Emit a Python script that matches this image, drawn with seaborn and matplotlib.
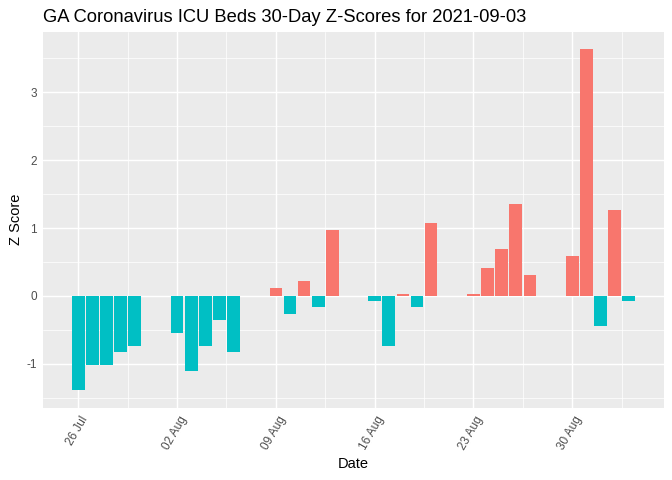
import pandas as pd
import numpy as np
import matplotlib
matplotlib.use("Agg")
import matplotlib.pyplot as plt
import matplotlib.transforms as mtransforms
import seaborn as sns

# weekdays only, 26 Jul - 03 Sep 2021
dates = [
    "2021-07-26", "2021-07-27", "2021-07-28", "2021-07-29", "2021-07-30",
    "2021-08-02", "2021-08-03", "2021-08-04", "2021-08-05", "2021-08-06",
    "2021-08-09", "2021-08-10", "2021-08-11", "2021-08-12", "2021-08-13",
    "2021-08-16", "2021-08-17", "2021-08-18", "2021-08-19", "2021-08-20",
    "2021-08-23", "2021-08-24", "2021-08-25", "2021-08-26", "2021-08-27",
    "2021-08-30", "2021-08-31", "2021-09-01", "2021-09-02", "2021-09-03",
]
z_scores = [
    -1.39, -1.01, -1.01, -0.82, -0.735,
    -0.54, -1.11, -0.735, -0.35, -0.82,
    0.12, -0.26, 0.22, -0.157, 0.97,
    -0.07, -0.74, 0.03, -0.157, 1.07,
    0.03, 0.41, 0.69, 1.35, 0.31,
    0.59, 3.63, -0.44, 1.265, -0.07,
]
tick_dates = ["2021-07-26", "2021-08-02", "2021-08-09", "2021-08-16", "2021-08-23", "2021-08-30"]

df = pd.DataFrame({"date": pd.to_datetime(dates), "z": z_scores})
origin = pd.Timestamp("2021-07-26")
df["day"] = (df["date"] - origin).dt.days.astype(float)
df["sign"] = np.where(df["z"] > 0, "pos", "neg")

sns.set_theme(style="darkgrid")
plt.rcParams["font.family"] = ["Liberation Sans", "DejaVu Sans"]
plt.rcParams["axes.unicode_minus"] = False

fig = plt.figure(figsize=(7, 5), dpi=96)
ax = fig.add_axes([43 / 672, 1 - 407.7 / 480, (664 - 43) / 672, (407.7 - 31.7) / 480])
ax.set_facecolor("#EBEBEB")

sns.barplot(data=df, x="day", y="z", hue="sign", native_scale=True, dodge=False,
            palette={"pos": "#F8766D", "neg": "#00BFC4"}, width=0.9,
            saturation=1, legend=False, ax=ax, linewidth=0)

tick_pos = [(pd.Timestamp(t) - origin).days for t in tick_dates]
ax.set_xticks(tick_pos)
ax.set_xticklabels([pd.Timestamp(t).strftime("%d %b") for t in tick_dates])
ax.set_xticks([p + 3.5 for p in tick_pos], minor=True)
ax.set_yticks([-1, 0, 1, 2, 3])
ax.set_yticklabels(["-1", "0", "1", "2", "3"])
ax.set_yticks([-1.5, -0.5, 0.5, 1.5, 2.5, 3.5], minor=True)

# limits last, set_ticks can widen the view
last = df["day"].max()
ax.set_xlim(-2.5, last + 2.5)
ax.set_ylim(-1.645, 3.89)

ax.grid(which="major", color="white", linewidth=1.1)
ax.grid(which="minor", color="white", linewidth=0.55)
ax.set_axisbelow(True)
for s in ax.spines.values():
    s.set_visible(False)

ax.tick_params(axis="both", which="major", length=2.75, width=0.8, color="#333333",
               labelsize=8.8, labelcolor="#4D4D4D", pad=2)
ax.tick_params(axis="both", which="minor", length=0)
shift = mtransforms.ScaledTranslation(7 / 96, -3 / 96, fig.dpi_scale_trans)
for lab in ax.get_xticklabels():
    lab.set_rotation(60)
    lab.set_ha("right")
    lab.set_va("center")
    lab.set_rotation_mode("anchor")
    lab.set_transform(lab.get_transform() + shift)

ax.set_xlabel("Date", fontsize=11, color="black", labelpad=4)
ax.set_ylabel("Z Score", fontsize=11, color="black", labelpad=2)
ax.set_title("GA Coronavirus ICU Beds 30-Day Z-Scores for 2021-09-03",
             loc="left", fontsize=13.8, color="black", pad=7)

fig.savefig("out.png", dpi=96)
